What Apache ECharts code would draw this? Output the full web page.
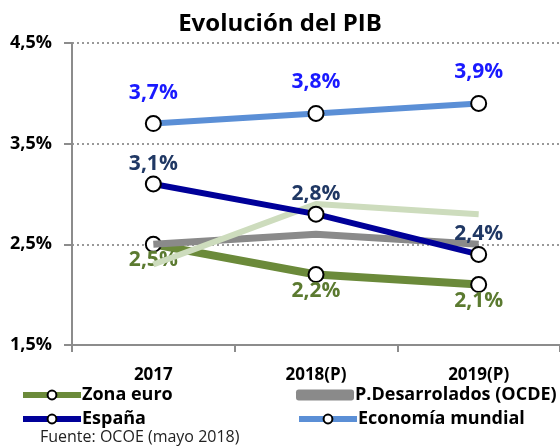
<!DOCTYPE html>
<html lang="es">
<head>
    <meta charset="UTF-8" />
    <title>Evolución del PIB</title>
    <script src="https://cdn.jsdelivr.net/npm/echarts@6/dist/echarts.min.js"></script>
    <style>
        html, body { margin: 0; padding: 0; background: #fff; }
    </style>
</head>
<body>
    <div id="chart" style="width: 560px; height: 447px"></div>
    <script>
        // datos
        var years = ["2017", "2018(P)", "2019(P)"];
        var zonaEuro = [2.5, 2.2, 2.1];
        var desarrollados = [2.5, 2.6, 2.5];
        var otros = [2.3, 2.9, 2.8];
        var espana = [3.1, 2.8, 2.4];
        var mundial = [3.7, 3.8, 3.9];

        var FONT = "Open Sans";
        var pct = function (v) {
            return v.toFixed(1).replace(".", ",") + "%";
        };

        var chart = echarts.init(document.getElementById("chart"));

        var marker = {
            symbol: "circle",
            symbolSize: 15,
            itemStyle: { color: "#fff", borderColor: "#000", borderWidth: 2 }
        };

        function lab(pos, dist, color) {
            return {
                show: true,
                position: pos,
                distance: dist,
                color: color,
                fontFamily: FONT,
                fontWeight: "bold",
                fontSize: 21,
                formatter: function (p) { return pct(p.value); }
            };
        }

        function legendAt(item, left, top) {
            return {
                data: [item],
                left: left,
                top: top,
                itemWidth: 58,
                itemHeight: 11,
                itemGap: 0,
                padding: 0,
                lineStyle: { width: 6 },
                textStyle: { fontFamily: FONT, fontWeight: "bold", fontSize: 18, color: "#000", padding: [0, 0, 0, -4] }
            };
        }

        var option = {
            animation: false,
            title: {
                text: "Evolución del PIB",
                left: "center",
                top: 7,
                textStyle: { fontFamily: FONT, fontWeight: "bold", fontSize: 24, color: "#000" }
            },
            legend: [
                legendAt("Zona euro", 20, 386),
                legendAt({ name: "P.Desarrolados (OCDE)", icon: "roundRect", itemStyle: { color: "#8a8a8a" } }, 296, 386),
                legendAt("España", 20, 410),
                legendAt("Economía mundial", 296, 410)
            ],
            graphic: [{
                type: "text",
                left: 40,
                top: 429,
                style: { text: "Fuente: OCOE (mayo 2018)", font: "16px 'Open Sans'", fill: "#222" }
            }],
            grid: { left: 72, right: 0, top: 43, bottom: 102 },
            xAxis: {
                type: "category",
                data: years,
                axisLine: { lineStyle: { color: "#8c8c8c", width: 2 } },
                axisTick: { show: true, length: 7, lineStyle: { color: "#8c8c8c", width: 2 } },
                axisLabel: { margin: 22, color: "#000", fontFamily: FONT, fontWeight: "bold", fontSize: 17 }
            },
            yAxis: {
                type: "value",
                min: 1.5,
                max: 4.5,
                interval: 1,
                axisLine: { show: true, lineStyle: { color: "#8c8c8c", width: 2 } },
                axisTick: { show: true, length: 8, lineStyle: { color: "#8c8c8c", width: 2 } },
                axisLabel: {
                    margin: 20,
                    color: "#000",
                    fontFamily: FONT,
                    fontWeight: "bold",
                    fontSize: 18,
                    formatter: pct
                },
                splitLine: { lineStyle: { color: "#999", type: [2, 3], width: 2 } }
            },
            series: [
                Object.assign({
                    name: "Zona euro",
                    type: "line",
                    data: zonaEuro,
                    z: 2,
                    color: "#6b8a3a",
                    lineStyle: { color: "#6b8a3a", width: 8 },
                    label: lab("bottom", -3, "#5b7a30")
                }, marker),
                {
                    name: "P.Desarrolados (OCDE)",
                    type: "line",
                    data: desarrollados,
                    z: 3,
                    symbol: "none",
                    color: "#8a8a8a",
                    lineStyle: { color: "#8a8a8a", width: 7 }
                },
                {
                    name: "otros",
                    type: "line",
                    data: otros,
                    z: 4,
                    symbol: "none",
                    color: "#cddcbd",
                    lineStyle: { color: "#cddcbd", width: 6 }
                },
                Object.assign({
                    name: "España",
                    type: "line",
                    data: espana,
                    z: 5,
                    color: "#000099",
                    lineStyle: { color: "#000099", width: 6 },
                    label: lab("top", 1, "#203864")
                }, marker),
                Object.assign({
                    name: "Economía mundial",
                    type: "line",
                    data: mundial,
                    z: 6,
                    color: "#5b8fd6",
                    lineStyle: { color: "#5b8fd6", width: 6 },
                    label: lab("top", 12, "#1a1aff")
                }, marker)
            ]
        };
        chart.setOption(option);
    </script>
</body>
</html>
